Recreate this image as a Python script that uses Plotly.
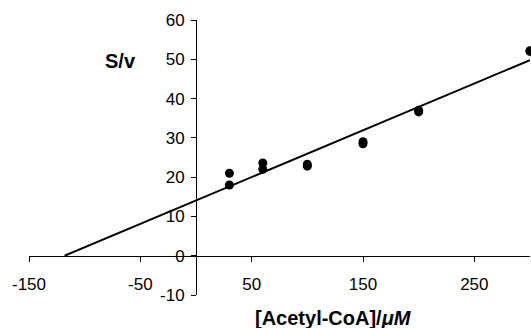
import plotly.graph_objects as go

# Data
acetyl_coa = [30, 30, 60, 60, 100, 100, 150, 150, 200, 200, 300, 300]
s_over_v = [21.0, 18.0, 23.6, 22.0, 23.3, 22.8, 29.0, 28.5, 37.0, 36.6, 52.0, 52.2]
fit_x = [-118, 300]
fit_y = [0, 49.8]

x_ticks = [-150, -50, 50, 150, 250]
y_ticks = [-10, 0, 10, 20, 30, 40, 50, 60]

FONT = "Arial, Liberation Sans, Helvetica, sans-serif"

fig = go.Figure()
fig.add_trace(go.Scatter(x=fit_x, y=fit_y, mode="lines",
                         line=dict(color="black", width=2), showlegend=False,
                         cliponaxis=False))
fig.add_trace(go.Scatter(x=acetyl_coa, y=s_over_v, mode="markers",
                         marker=dict(color="black", size=9), showlegend=False,
                         cliponaxis=False))

fig.update_layout(
    width=531, height=328,
    margin=dict(l=29, r=1, t=20, b=33, autoexpand=False),
    paper_bgcolor="white", plot_bgcolor="white",
    font=dict(family=FONT, color="black", size=17),
    xaxis=dict(range=[-150, 300], anchor="free", position=1/7,
               tickmode="array", tickvals=x_ticks,
               ticktext=[str(v) for v in x_ticks],
               showgrid=False, zeroline=False, showline=True,
               linecolor="black", linewidth=1,
               ticks="outside", ticklen=5, tickcolor="black",
               tickfont=dict(size=17), ticklabelstandoff=8),
    yaxis=dict(range=[-10, 60], anchor="free", position=1/3,
               tickmode="array", tickvals=y_ticks,
               ticktext=[str(v) for v in y_ticks],
               showgrid=False, zeroline=False, showline=True,
               linecolor="black", linewidth=1,
               ticks="outside", ticklen=5, tickcolor="black",
               tickfont=dict(size=17), ticklabelstandoff=3),
    annotations=[
        dict(text="<b>S/v</b>", x=0.1836, y=0.85, xref="paper", yref="paper",
             showarrow=False, font=dict(size=20, family=FONT),
             xanchor="center", yanchor="middle"),
        dict(text="<b>[Acetyl-CoA]/<i>μM</i></b>", x=0.607, y=-0.083,
             xref="paper", yref="paper", showarrow=False,
             font=dict(size=20, family=FONT),
             xanchor="center", yanchor="middle"),
    ],
)

fig.write_html("out.html",
               config={"displayModeBar": False, "staticPlot": True},
               post_script="document.body.style.margin='0';"
                           "document.body.style.overflow='hidden';")
